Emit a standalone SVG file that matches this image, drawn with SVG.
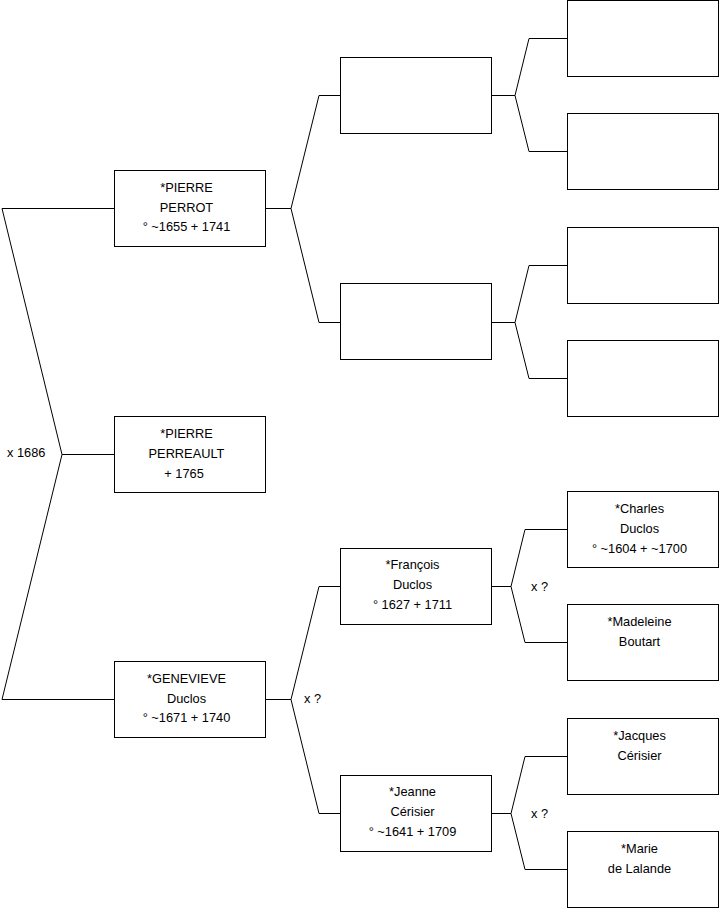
<svg xmlns="http://www.w3.org/2000/svg" width="719" height="908" viewBox="0 0 719 908">
<style>
.box{fill:#fff;stroke:#000;stroke-width:1}
.ln{fill:none;stroke:#000;stroke-width:1}
text{font-family:"Liberation Sans",Arial,sans-serif;font-size:12.8px;fill:#000}
.c{text-anchor:middle}
</style>
<rect width="719" height="908" fill="#fff"/>
<g id="connectors">
<path class="ln" d="M114,454.5 H62 M2,208.5 L62,454.5 L2,699.5 M2,208.5 H114 M2,699.5 H114"/>
<path class="ln" d="M265,208.5 H291 L319,95.5 H340 M291,208.5 L319,322.5 H340"/>
<path class="ln" d="M265,699.5 H291 L319,586.5 H340 M291,699.5 L319,813.5 H340"/>
<path class="ln" d="M491,95.5 H515 L529,38.5 H567 M515,95.5 L529,151.5 H567"/>
<path class="ln" d="M491,322.5 H515 L529,265.5 H567 M515,322.5 L529,378.5 H567"/>
<path class="ln" d="M491,586.5 H511 L525,529.5 H567 M511,586.5 L525,642.5 H567"/>
<path class="ln" d="M491,813.5 H511 L525,756.5 H567 M511,813.5 L525,869.5 H567"/>
<text x="7" y="456.5">x 1686</text>
<text x="304" y="702.5">x ?</text>
<text x="531" y="591">x ?</text>
<text x="531" y="818">x ?</text>
</g>
<g id="perreault">
<rect class="box" x="114.5" y="416.5" width="151" height="76"/>
<text class="c" x="186.5" y="437.5">*PIERRE</text>
<text class="c" x="186.5" y="457.5">PERREAULT</text>
<text class="c" x="184" y="477.5">+ 1765</text>
</g>
<g id="perrot">
<rect class="box" x="114.5" y="170.5" width="151" height="76"/>
<text class="c" x="186.5" y="191.5">*PIERRE</text>
<text class="c" x="186.5" y="211.5">PERROT</text>
<text class="c" x="186.5" y="231">° ~1655 + 1741</text>
</g>
<g id="genevieve">
<rect class="box" x="114.5" y="661.5" width="151" height="76"/>
<text class="c" x="186.5" y="682.5">*GENEVIEVE</text>
<text class="c" x="186.5" y="702.5">Duclos</text>
<text class="c" x="186.5" y="722">° ~1671 + 1740</text>
</g>
<g id="perrot-father">
<rect class="box" x="340.5" y="57.5" width="151" height="76"/>
</g>
<g id="perrot-mother">
<rect class="box" x="340.5" y="283.5" width="151" height="76"/>
</g>
<g id="francois">
<rect class="box" x="340.5" y="548.5" width="151" height="76"/>
<text class="c" x="412.5" y="569">*François</text>
<text class="c" x="412.5" y="589">Duclos</text>
<text class="c" x="412.5" y="609">° 1627 + 1711</text>
</g>
<g id="jeanne">
<rect class="box" x="340.5" y="775.5" width="151" height="76"/>
<text class="c" x="412.5" y="796">*Jeanne</text>
<text class="c" x="412.5" y="816">Cérisier</text>
<text class="c" x="412.5" y="836">° ~1641 + 1709</text>
</g>
<g id="g4-1"><rect class="box" x="567.5" y="0.5" width="151" height="76"/></g>
<g id="g4-2"><rect class="box" x="567.5" y="113.5" width="151" height="76"/></g>
<g id="g4-3"><rect class="box" x="567.5" y="227.5" width="151" height="76"/></g>
<g id="g4-4"><rect class="box" x="567.5" y="340.5" width="151" height="76"/></g>
<g id="charles">
<rect class="box" x="567.5" y="491.5" width="151" height="76"/>
<text class="c" x="639.5" y="512.5">*Charles</text>
<text class="c" x="639.5" y="532.5">Duclos</text>
<text class="c" x="639.5" y="552.5">° ~1604 + ~1700</text>
</g>
<g id="madeleine">
<rect class="box" x="567.5" y="604.5" width="151" height="76"/>
<text class="c" x="639.5" y="625.5">*Madeleine</text>
<text class="c" x="639.5" y="645.5">Boutart</text>
</g>
<g id="jacques">
<rect class="box" x="567.5" y="718.5" width="151" height="76"/>
<text class="c" x="639.5" y="739.5">*Jacques</text>
<text class="c" x="639.5" y="759.5">Cérisier</text>
</g>
<g id="marie">
<rect class="box" x="567.5" y="831.5" width="151" height="76"/>
<text class="c" x="639.5" y="852.5">*Marie</text>
<text class="c" x="639.5" y="872.5">de Lalande</text>
</g>
</svg>
